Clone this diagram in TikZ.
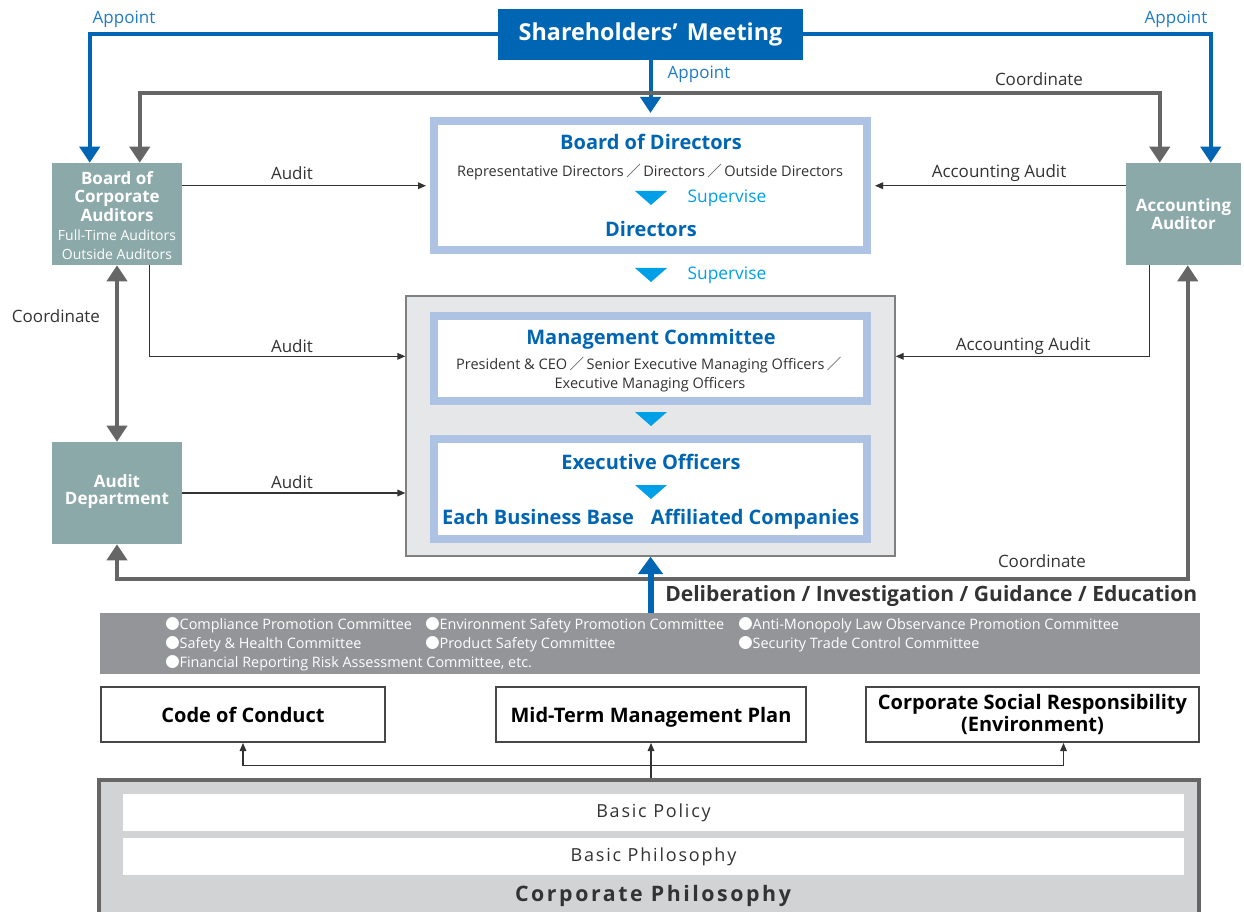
\documentclass[tikz,border=0pt]{standalone}
\usepackage{fontspec}
\setmainfont{Open Sans}
\newfontfamily\cjk{Noto Sans CJK JP}
\newfontfamily\spaced[LetterSpace=10]{Open Sans}
\newfontfamily\spacedbf[LetterSpace=12]{Open Sans Bold}
\usetikzlibrary{arrows.meta,calc,fit}

\definecolor{smblue}{HTML}{0066B3}
\definecolor{appblue}{HTML}{1F7AC8}
\definecolor{skyblue}{HTML}{00A0E9}
\definecolor{frameblue}{HTML}{AEC2E4}
\definecolor{auditgreen}{HTML}{8CA9AA}
\definecolor{linegray}{HTML}{666666}
\definecolor{panelgray}{HTML}{E6E7E8}
\definecolor{bandgray}{HTML}{939598}
\definecolor{basegray}{HTML}{D1D3D4}
\definecolor{ink}{HTML}{333333}

\newcommand\sep{\,{\cjk ／}\,}
\newcommand\bul{{\cjk ●}}
\newcommand\auditsub{\fontsize{10.5}{14.2}\selectfont\mdseries}
\newcommand\downtri[2]{\fill[skyblue] (#1,#2) ++(-16,-7) -- ++(32,0) -- ++(-16,14) -- cycle;}

\tikzset{
  tealbox/.style={fill=auditgreen, inner sep=0pt},
  tealtext/.style={text=white, align=center, inner sep=0pt, font=\fontsize{12.75}{13.9}\selectfont\bfseries},
  framebox/.style={draw=frameblue, line width=6pt, fill=white, inner sep=0pt},
  planbox/.style={draw=ink!90, line width=1.5pt, fill=white, inner sep=0pt},
  plantext/.style={align=center, inner sep=0pt, font=\fontsize{15}{16.5}\selectfont\bfseries, text=black},
  lbl/.style={text=ink, font=\fontsize{12.75}{15}\selectfont, inner sep=1pt},
  applbl/.style={text=appblue, font=\fontsize{12.75}{15}\selectfont, inner sep=1pt},
  suplbl/.style={text=skyblue, font=\fontsize{13}{15}\selectfont, inner sep=1pt},
  head/.style={text=smblue, font=\fontsize{15}{17}\selectfont\bfseries, inner sep=1pt},
  sub/.style={text=ink, font=\fontsize{10.9}{14.2}\selectfont, inner sep=1pt, align=center},
  appoint/.style={draw=smblue, line width=3pt, -{Triangle[width=15pt,length=12pt]}},
  coordline/.style={draw=linegray, line width=3pt,
    {Triangle[width=15pt,length=12pt]}-{Triangle[width=15pt,length=12pt]}},
  auditline/.style={draw=ink, line width=1pt, -{Triangle[width=5pt,length=6pt]}},
}

\begin{document}
\begin{tikzpicture}[x=0.75pt,y=-0.75pt]
\useasboundingbox (0,0) rectangle (1244,912);

\node[fill=smblue, inner sep=0pt, fit={(498,9) (803,60)}] (sm) {};
\node[text=white, inner sep=0pt, font=\fontsize{17.5}{19}\selectfont\bfseries] (smt) at (sm)
  {Shareholders’\hspace{0.4em}Meeting};

\node[tealbox, fit={(52,163) (182,265)}] (bca) {};
\node[tealtext] (bcat) at ([yshift=-1pt]bca)
  {Board of\\Corporate\\Auditors\\[1pt]\auditsub Full-Time Auditors\\\auditsub Outside Auditors};
\node[tealbox, fit={(1126,163) (1241,265)}] (aa) {};
\node[tealtext, font=\fontsize{12.75}{13}\selectfont\bfseries] (aat) at (aa) {Accounting\\Auditor};
\node[tealbox, fit={(52,442) (182,544)}] (ad) {};
\node[tealtext, font=\fontsize{12.75}{13}\selectfont\bfseries] (adt) at ([yshift=1pt]ad) {Audit\\Department};

\node[framebox, fit={(434,121) (867,250)}] (bod) {};
\node[head] (bodt) at (651,142) {Board of Directors};
\node[sub] (bods) at (650,172) {Representative Directors\sep Directors\sep Outside Directors};
\downtri{651}{198}
\node[suplbl, anchor=west] (sup1) at (686,198) {Supervise};
\node[head] (dirs) at (651,229) {Directors};

\downtri{651}{275}
\node[suplbl, anchor=west] (sup2) at (686,275) {Supervise};

\node[fill=panelgray, draw=gray, line width=1pt, inner sep=0pt, fit={(406,296) (895,556)}] (exec) {};
\node[framebox, fit={(434,316) (867,401)}] (mc) {};
\node[head] (mct) at (651,339) {Management Committee};
\node[sub] (mcs) at (650,375) {President \& CEO\sep Senior Executive Managing Officers\sep\\Executive Managing Officers};
\downtri{651}{419}
\node[framebox, fit={(434,439) (867,539)}] (eo) {};
\node[head] (eot) at (651,462) {Executive Officers};
\downtri{651}{492}
\node[head, anchor=base] (base) at (538,524) {Each Business Base};
\node[head, anchor=base] (affil) at (755,524) {Affiliated Companies};

% appoint and coordinate lines across the top
\draw[appoint] (sm.west) -| ($(bca.north west)+(38,0)$);
\draw[appoint] (sm.east) -| ($(aa.north west)+(85,0)$);
\draw[appoint] (sm.south) -- ([yshift=3pt]bod.north);
\draw[coordline] ($(bca.north west)+(88,0)$) -- ++(0,-70) -| ($(aa.north west)+(34,0)$);
\node[applbl] (app1) at (124,19) {Appoint};
\node[applbl] (app2) at (1176,19) {Appoint};
\node[applbl] (app3) at (699,74) {Appoint};
\node[lbl] (co1) at (1039,79) {Coordinate};

% audits
\draw[auditline] ($(bca.north east)+(0,23)$) coordinate (a1) -- ([xshift=-3pt]a1 -| bod.west);
\draw[auditline] ($(bca.south west)+(98,0)$) |- ($(exec.north west)+(0,61)$);
\draw[auditline] (ad.east) -- (ad.east -| exec.west);
\draw[auditline] ($(aa.north west)+(0,23)$) coordinate (a2) -- ([xshift=3pt]a2 -| bod.east);
\draw[auditline] ($(aa.south west)+(24,0)$) |- ($(exec.north east)+(0,61)$);
\node[lbl] (au1) at (292,173) {Audit};
\node[lbl] (au2) at (292,346) {Audit};
\node[lbl] (au3) at (292,482) {Audit};
\node[lbl] (acc1) at (999,173) {Accounting Audit};
\node[lbl] (acc2) at (1023,346) {Accounting Audit};

\draw[coordline] (bca.south) -- (ad.north);
\node[lbl] (co2) at (56,316) {Coordinate};
\draw[coordline] (ad.south) -- ++(0,35) -| ($(aa.south west)+(62,0)$);
\node[lbl] (co3) at (1042,561) {Coordinate};

% committees
\node[fill=bandgray, inner sep=0pt, fit={(100,613) (1200,674)}] (band) {};
\foreach \cx/\cy/\ct [count=\i] in {
    165/625/{Compliance Promotion Committee},
    425/625/{Environment Safety Promotion Committee},
    738/625/{Anti-Monopoly Law Observance Promotion Committee},
    165/644/{Safety \& Health Committee},
    425/644/{Product Safety Committee},
    738/644/{Security Trade Control Committee},
    165/663/{Financial Reporting Risk Assessment Committee, etc.}}
  \node[anchor=west, text=white, inner sep=0pt, font=\fontsize{10.8}{12}\selectfont] (com\i) at (\cx,\cy) {\bul\ct};

\draw[draw=smblue, line width=4.5pt, -{Triangle[width=18pt,length=13pt]}] (band.north -| exec.south) -- (exec.south);
\node[anchor=west, text=ink, inner sep=0pt, font=\fontsize{15.8}{17}\selectfont\bfseries] (delib) at (665,596)
  {Deliberation / Investigation / Guidance / Education};

% policies
\node[planbox, fit={(101,687) (385,742)}] (coc) {};
\node[plantext, text depth=0pt] (coct) at (coc) {Code of Conduct};
\node[planbox, fit={(496,687) (806,742)}] (mtp) {};
\node[plantext, text depth=0pt] (mtpt) at (mtp) {Mid-Term Management Plan};
\node[planbox, fit={(866,687) (1199,742)}] (csr) {};
\node[plantext] (csrt) at (csr) {Corporate Social Responsibility\\(Environment)};

\node[fill=basegray, draw=linegray, line width=2.5pt, inner sep=0pt, fit={(99,780) (1199,930)}] (cp) {};
\node[fill=white, inner sep=0pt, fit={(123,794) (1184,831)}] (bp) {};
\node[text=ink, inner sep=0pt, font=\spaced\fontsize{13.5}{15}\selectfont] (bpt) at (bp) {Basic Policy};
\node[fill=white, inner sep=0pt, fit={(123,838) (1184,875)}] (bph) {};
\node[text=ink, inner sep=0pt, font=\spaced\fontsize{13.5}{15}\selectfont] (bpht) at (bph) {Basic Philosophy};
\node[text=ink, inner sep=0pt, font=\spacedbf\fontsize{16}{17}\selectfont] (cpt) at (653,896) {Corporate Philosophy};

\coordinate (csrin) at ($(csr.south)+(31,0)$);
\coordinate (fork) at ($(cp.north)+(0,-13)$);
\draw[auditline, line width=0.8pt, {Triangle[width=5pt,length=6pt]}-{Triangle[width=5pt,length=6pt]}]
  (coc.south) -- (coc.south |- fork) -- (fork -| csrin) -- (csrin);
\draw[auditline, line width=0.8pt] (cp.north -| mtp.south) -- (mtp.south);
\end{tikzpicture}
\end{document}
